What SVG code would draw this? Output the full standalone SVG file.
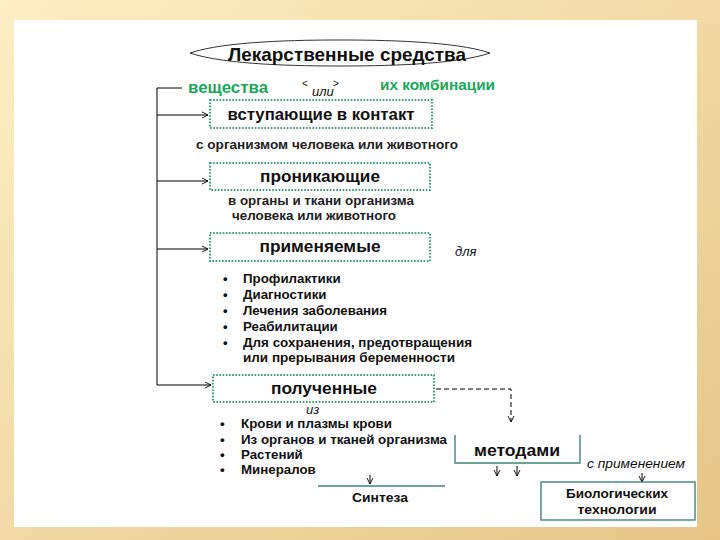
<svg xmlns="http://www.w3.org/2000/svg" width="720" height="540" viewBox="0 0 720 540">
<defs>
<linearGradient id="bg" x1="0" y1="0" x2="1" y2="1">
<stop offset="0" stop-color="#fcefc4"/>
<stop offset="1" stop-color="#e6c587"/>
</linearGradient>
<marker id="ar" markerWidth="8" markerHeight="8" refX="7" refY="4" orient="auto" markerUnits="userSpaceOnUse">
<path d="M1,1 L7,4 L1,7" fill="none" stroke="#000" stroke-width="0.9"/>
</marker>
<style>
text{font-family:"Liberation Sans",Arial,sans-serif;fill:#111}
.t{font-weight:bold;font-size:16.5px;text-anchor:middle}
.g{font-weight:bold;fill:#1ba85a}
.s{font-size:13px;font-weight:bold;fill:#222}
.b{font-size:13.3px;font-weight:bold}
.i{font-style:italic;font-size:13px}
.box{fill:#fff;stroke:#3a9e78;stroke-width:2.2;stroke-dasharray:1.6 1.6}
.ln{fill:none;stroke:#000;stroke-width:1}
.tl{fill:none;stroke:#3d8577;stroke-width:1.4}
</style>
</defs>
<rect width="720" height="540" fill="url(#bg)"/>
<rect x="14" y="20" width="683" height="507" fill="#fff"/>

<g id="title">
<path d="M190,53 C225,41 300,40 340,40 C380,40 455,41 490,53 C455,65 380,66 340,66 C300,66 225,65 190,53 Z" fill="none" stroke="#333" stroke-width="1"/>
<text x="347" y="61" class="t" style="font-size:19px" textLength="238" lengthAdjust="spacingAndGlyphs">Лекарственные средства</text>
</g>
<g id="header">
<text x="188" y="93" class="g" font-size="17" textLength="80" lengthAdjust="spacingAndGlyphs">вещества</text>
<text x="380" y="90" class="g" font-size="14.5" textLength="115" lengthAdjust="spacingAndGlyphs">их комбинации</text>
<text x="302" y="87" font-size="10">&lt;</text>
<text x="333" y="87" font-size="10">&gt;</text>
<text x="312" y="96" class="i" font-size="9">или</text>
</g>

<g id="connectors">
<path class="ln" d="M182,88 H157 V385"/>
<path class="ln" d="M157,115 H208" marker-end="url(#ar)"/>
<path class="ln" d="M157,181 H208" marker-end="url(#ar)"/>
<path class="ln" d="M157,249 H208" marker-end="url(#ar)"/>
<path class="ln" d="M157,385 H211" marker-end="url(#ar)"/>
<path class="ln" d="M436,389 H511 V422" stroke-dasharray="5 3" marker-end="url(#ar)"/>
<path class="ln" d="M497,466 V476" marker-end="url(#ar)"/>
<path class="ln" d="M517,466 V476" marker-end="url(#ar)"/>
<path class="ln" d="M642,473 V482" marker-end="url(#ar)"/>
<path class="ln" d="M370,475 V484" marker-end="url(#ar)"/>
</g>

<g id="n1">
<rect x="210" y="100" width="222" height="28" class="box"/>
<text x="321" y="120" class="t" textLength="187" lengthAdjust="spacingAndGlyphs">вступающие в контакт</text>
</g>
<text x="196" y="149" class="s" textLength="262" lengthAdjust="spacingAndGlyphs">с организмом человека или животного</text>

<g id="n2">
<rect x="210" y="163" width="220" height="27" class="box"/>
<text x="320" y="182" class="t" textLength="120" lengthAdjust="spacingAndGlyphs">проникающие</text>
</g>
<text x="228" y="205" class="s" textLength="186" lengthAdjust="spacingAndGlyphs">в органы и ткани организма</text>
<text x="232" y="220" class="s" textLength="164" lengthAdjust="spacingAndGlyphs">человека или животного</text>

<g id="n3">
<rect x="210" y="233" width="220" height="28" class="box"/>
<text x="320" y="252" class="t" textLength="121" lengthAdjust="spacingAndGlyphs">применяемые</text>
</g>
<text x="455" y="256" class="i">для</text>
<g id="list1">
<text x="223" y="283" class="b">•</text><text x="243" y="283" class="b">Профилактики</text>
<text x="223" y="299" class="b">•</text><text x="243" y="299" class="b">Диагностики</text>
<text x="223" y="315" class="b">•</text><text x="243" y="315" class="b">Лечения заболевания</text>
<text x="223" y="331" class="b">•</text><text x="243" y="331" class="b">Реабилитации</text>
<text x="223" y="347" class="b">•</text><text x="243" y="347" class="b" textLength="229" lengthAdjust="spacingAndGlyphs">Для сохранения, предотвращения</text>
<text x="243" y="362" class="b" textLength="212" lengthAdjust="spacingAndGlyphs">или прерывания беременности</text>
</g>

<g id="n4">
<rect x="213" y="375" width="221" height="27" class="box"/>
<text x="324" y="394" class="t" textLength="106" lengthAdjust="spacingAndGlyphs">полученные</text>
</g>
<text x="306" y="414" class="i">из</text>
<g id="list2">
<text x="220" y="428" class="b">•</text><text x="241" y="428" class="b" textLength="151" lengthAdjust="spacingAndGlyphs">Крови и плазмы крови</text>
<text x="220" y="444" class="b">•</text><text x="241" y="444" class="b" textLength="206" lengthAdjust="spacingAndGlyphs">Из органов и тканей организма</text>
<text x="220" y="459" class="b">•</text><text x="241" y="459" class="b">Растений</text>
<text x="220" y="474" class="b">•</text><text x="241" y="474" class="b">Минералов</text>
</g>

<g id="methods">
<path class="tl" d="M455,435 V463 H580 V435"/>
<text x="517" y="456" class="t" textLength="86" lengthAdjust="spacingAndGlyphs">методами</text>
</g>
<text x="587" y="468" class="i" textLength="98" lengthAdjust="spacingAndGlyphs">с применением</text>

<g id="bio">
<rect x="541" y="482" width="154" height="38" fill="#fff" class="tl"/>
<text x="617" y="498" class="t" style="font-size:13px" textLength="102" lengthAdjust="spacingAndGlyphs">Биологических</text>
<text x="617" y="514" class="t" style="font-size:13px" textLength="79" lengthAdjust="spacingAndGlyphs">технологии</text>
</g>

<g id="synth">
<path class="tl" d="M318,486 H445"/>
<text x="380" y="502" class="t" style="font-size:13px" textLength="56" lengthAdjust="spacingAndGlyphs">Синтеза</text>
</g>
</svg>
